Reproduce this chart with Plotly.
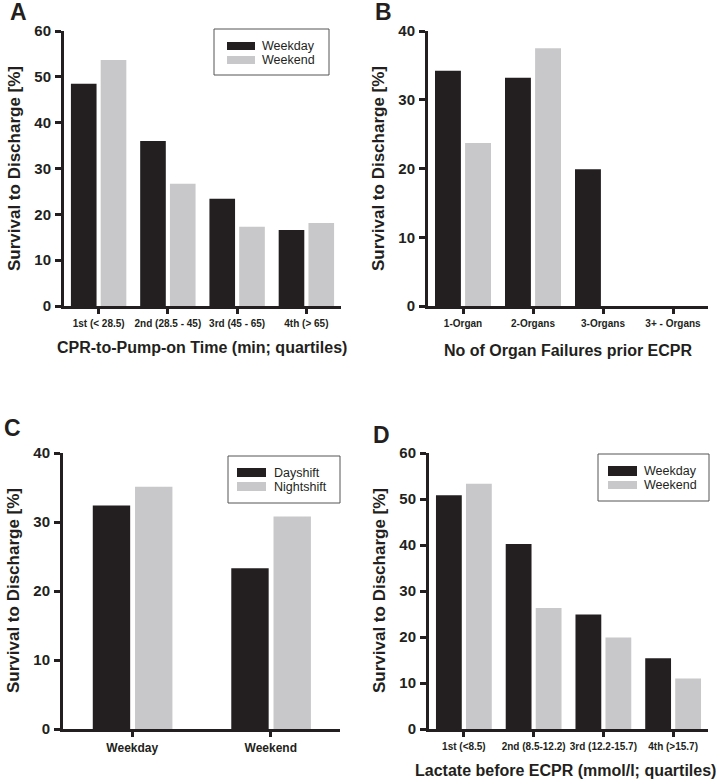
import plotly.graph_objects as go

# ---------------- data ----------------
A_categories = ["1st (< 28.5)", "2nd (28.5 - 45)", "3rd (45 - 65)", "4th (> 65)"]
A_weekday = [48.5, 36.0, 23.4, 16.6]
A_weekend = [53.7, 26.7, 17.3, 18.1]

B_categories = ["1-Organ", "2-Organs", "3-Organs", "3+ - Organs"]
B_weekday = [34.2, 33.2, 19.9, 0]
B_weekend = [23.7, 37.5, 0, 0]

C_categories = ["Weekday", "Weekend"]
C_dayshift = [32.4, 23.3]
C_nightshift = [35.1, 30.8]

D_categories = ["1st (<8.5)", "2nd (8.5-12.2)", "3rd (12.2-15.7)", "4th (>15.7)"]
D_weekday = [50.8, 40.2, 24.9, 15.4]
D_weekend = [53.3, 26.3, 19.9, 11.0]

y_ticks_A = [0, 10, 20, 30, 40, 50, 60]
y_ticks_B = [0, 10, 20, 30, 40]
y_ticks_C = [0, 10, 20, 30, 40]
y_ticks_D = [0, 10, 20, 30, 40, 50, 60]

# ---------------- style ----------------
W, H = 716, 781
DARK = "#231f20"
GREY = "#c8c8ca"
FONT = "Liberation Sans, Arial, sans-serif"


def px(x):
    return x / W


def py(y):
    return 1 - y / H


fig = go.Figure()

panels = [
    # suffix, cats, s1, s2, yticks, ymax, xdomain(px), ydomain(px), bar w, off1, off2, xtickfont
    ("", A_categories, A_weekday, A_weekend, y_ticks_A, 60, (64, 341), (31, 306), 0.37, -0.40, 0.03, 10),
    ("2", B_categories, B_weekday, B_weekend, y_ticks_B, 40, (428, 708), (31, 306), 0.37, -0.40, 0.03, 10),
    ("3", C_categories, C_dayshift, C_nightshift, y_ticks_C, 40, (63, 340), (453, 729), 0.27, -0.285, 0.02, 12),
    ("4", D_categories, D_weekday, D_weekend, y_ticks_D, 60, (429, 708), (453, 729), 0.37, -0.40, 0.03, 10),
]

for (suf, cats, s1, s2, yt, ymax, xd, yd, bw, o1, o2, xfs) in panels:
    xa = "x" + suf
    ya = "y" + suf
    fig.add_trace(go.Bar(x=cats, y=s1, xaxis=xa, yaxis=ya, width=bw, offset=o1,
                         marker=dict(color=DARK, line=dict(width=0))))
    fig.add_trace(go.Bar(x=cats, y=s2, xaxis=xa, yaxis=ya, width=bw, offset=o2,
                         marker=dict(color=GREY, line=dict(width=0))))
    xkey = "xaxis" + suf
    ykey = "yaxis" + suf
    fig.update_layout(**{
        xkey: dict(domain=[px(xd[0]), px(xd[1])], anchor=ya, type="category",
                   range=[-0.5, len(cats) - 0.5], showline=True, linewidth=3, linecolor=DARK,
                   ticks="outside", ticklen=5, tickwidth=2.5, tickcolor=DARK,
                   showgrid=False, zeroline=False, ticklabelstandoff=1, automargin=False,
                   tickfont=dict(size=xfs, family=FONT, color=DARK, weight="bold")),
        ykey: dict(domain=[py(yd[1]), py(yd[0])], anchor=xa, range=[0, ymax],
                   tickvals=yt, showline=True, linewidth=3, linecolor=DARK,
                   ticks="outside", ticklen=6, tickwidth=2.5, tickcolor=DARK,
                   showgrid=False, zeroline=False, ticklabelstandoff=1, automargin=False,
                   tickfont=dict(size=15, family=FONT, color=DARK, weight="bold")),
    })

annotations = []
shapes = []

# panel letters
for letter, (lx, ly) in zip("ABCD", [(8, 12), (373, 12), (2, 428), (371, 435)]):
    annotations.append(dict(text="<b>%s</b>" % letter, x=px(lx), y=py(ly), xref="paper", yref="paper",
                            xanchor="left", yanchor="middle", showarrow=False,
                            font=dict(size=23, family=FONT, color=DARK)))

# y-axis titles
for (tx, ty) in [(14, 169), (378, 169), (13, 591), (379, 591)]:
    annotations.append(dict(text="<b>Survival to Discharge [%]</b>", x=px(tx), y=py(ty),
                            xref="paper", yref="paper", textangle=-90, showarrow=False,
                            xanchor="center", yanchor="middle",
                            font=dict(size=17, family=FONT, color=DARK)))

# x-axis titles
for (txt, tx, ty) in [("CPR-to-Pump-on Time (min; quartiles)", 202, 348),
                      ("No of Organ Failures prior ECPR", 568, 350),
                      ("Lactate before ECPR (mmol/l; quartiles)", 565, 770)]:
    annotations.append(dict(text="<b>%s</b>" % txt, x=px(tx), y=py(ty), xref="paper", yref="paper",
                            showarrow=False, xanchor="center", yanchor="middle",
                            font=dict(size=16, family=FONT, color=DARK)))

# legends (drawn boxes)
legends = [
    ((214, 29, 329, 75), (227, 255), (42, 50), (56, 64), ("Weekday", "Weekend"), 261),
    ((228, 456, 340, 503), (237, 266), (468, 477), (482, 491), ("Dayshift", "Nightshift"), 273),
    ((598, 454, 709, 501), (608, 637), (466, 476), (481, 489), ("Weekday", "Weekend"), 643),
]
for box, sx, sy1, sy2, names, tx in legends:
    shapes.append(dict(type="rect", xref="paper", yref="paper", x0=px(box[0]), x1=px(box[2]),
                       y0=py(box[3]), y1=py(box[1]), line=dict(color="#555555", width=1),
                       fillcolor="white", layer="above"))
    for (sy, col, name) in [(sy1, DARK, names[0]), (sy2, GREY, names[1])]:
        shapes.append(dict(type="rect", xref="paper", yref="paper", x0=px(sx[0]), x1=px(sx[1]),
                           y0=py(sy[1]), y1=py(sy[0]), line=dict(width=0), fillcolor=col,
                           layer="above"))
        annotations.append(dict(text=name, x=px(tx), y=py((sy[0] + sy[1]) / 2), xref="paper",
                                yref="paper", showarrow=False, xanchor="left", yanchor="middle",
                                borderpad=0, font=dict(size=12.5, family=FONT, color=DARK)))

fig.update_layout(width=W, height=H,
                  margin=dict(l=0, r=0, t=0, b=0, pad=0, autoexpand=False),
                  plot_bgcolor="white", paper_bgcolor="white", showlegend=False,
                  font=dict(family=FONT, color=DARK),
                  annotations=annotations, shapes=shapes)

fig.write_html("out.html", config={"displayModeBar": False},
               post_script="document.body.style.margin='0';document.body.style.overflow='hidden';")
